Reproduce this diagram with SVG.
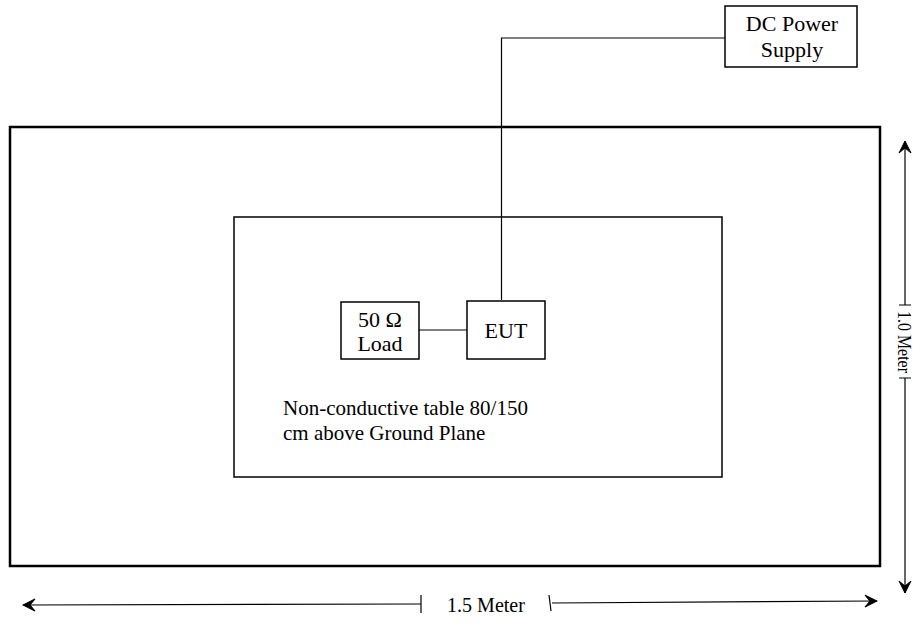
<svg xmlns="http://www.w3.org/2000/svg" width="913" height="622" viewBox="0 0 913 622">
<style>
.box{fill:#fff;stroke:#000;stroke-width:1.5}
.big{fill:none;stroke:#000;stroke-width:2.5}
.line{fill:none;stroke:#000;stroke-width:1.2}
text{font-family:'Liberation Serif','Times New Roman',serif;fill:#000}
.t21{font-size:21px}
.t20{font-size:20px}
.t22{font-size:22px}
.t18{font-size:18px}
</style>
<defs>
<marker id="ah" viewBox="0 0 14 14" refX="13" refY="7" markerWidth="14" markerHeight="14" markerUnits="userSpaceOnUse" orient="auto-start-reverse">
<path d="M1,1 L13,7 L1,13 L6,7 Z" fill="#000" stroke="#000" stroke-width="1"/>
</marker>
</defs>
<g id="ground-plane"><rect class="big" x="10" y="127" width="870" height="439"/></g>
<g id="table"><rect class="box" x="234" y="217" width="488" height="260"/>
<text class="t21" x="283" y="415">Non-conductive table 80/150</text>
<text class="t21" x="283" y="440">cm above Ground Plane</text></g>
<g id="connectors">
<path class="line" d="M419,330 H467"/>
<path class="line" d="M501.5,300 V38 H725"/>
</g>
<g id="dc-power"><rect class="box" x="725" y="6" width="132" height="61"/>
<text class="t22" x="792" y="31" text-anchor="middle">DC Power</text>
<text class="t22" x="792" y="57" text-anchor="middle">Supply</text></g>
<g id="load"><rect class="box" x="341" y="302" width="78" height="57"/>
<text class="t22" x="380" y="327" text-anchor="middle">50 Ω</text>
<text class="t22" x="380" y="351" text-anchor="middle">Load</text></g>
<g id="eut"><rect class="box" x="467" y="301" width="78" height="58"/>
<text class="t22" x="506" y="338" text-anchor="middle">EUT</text></g>
<g id="dim-vertical">
<path class="line" d="M905,305 V141" marker-end="url(#ah)"/>
<path class="line" d="M905,378 V593" marker-end="url(#ah)"/>
<path class="line" d="M899,305 H911 M899,378 H911"/>
<text class="t18" transform="translate(898,342) rotate(90)" text-anchor="middle" textLength="62" lengthAdjust="spacingAndGlyphs">1.0 Meter</text>
</g>
<g id="dim-horizontal">
<path class="line" d="M421,604 L23,605" marker-end="url(#ah)"/>
<path class="line" d="M552,603 L877,601" marker-end="url(#ah)"/>
<path class="line" d="M421,595 V613 M549,595 L551,611"/>
<text class="t20" x="486" y="612" text-anchor="middle">1.5 Meter</text>
</g>
</svg>
